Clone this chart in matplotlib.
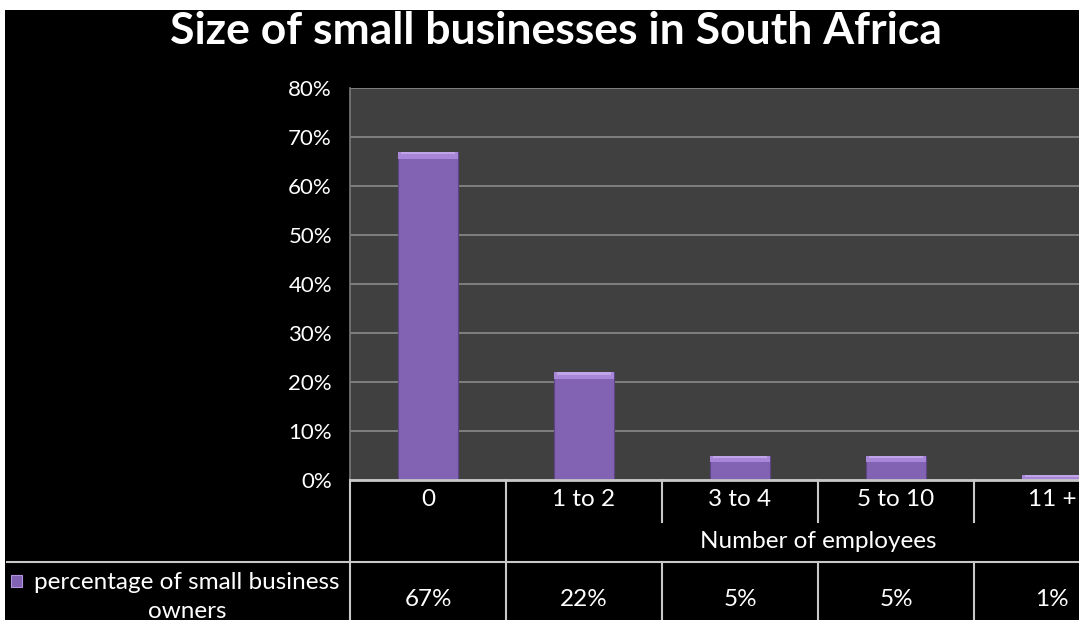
import matplotlib
matplotlib.use("Agg")
import matplotlib.pyplot as plt
from matplotlib.patches import Rectangle
from matplotlib.lines import Line2D
from matplotlib.transforms import blended_transform_factory

categories = ["0", "1 to 2", "3 to 4", "5 to 10", "11 +"]
values = [0.67, 0.22, 0.05, 0.05, 0.01]
value_labels = ["67%", "22%", "5%", "5%", "1%"]
yticks = [0.0, 0.1, 0.2, 0.3, 0.4, 0.5, 0.6, 0.7, 0.8]
ytick_labels = ["0%", "10%", "20%", "30%", "40%", "50%", "60%", "70%", "80%"]
title = "Size of small businesses in South Africa"
axis_title = "Number of employees"
series_name = "percentage of small business\nowners"

FONT = ["Lato", "DejaVu Sans"]
plt.rcParams['font.family'] = FONT
FS = 17.5

W, H = 1079, 620
fig = plt.figure(figsize=(W / 100, H / 100), dpi=100, facecolor="white")

def fx(px):
    return px / W

def fy(py):
    return 1 - py / H

# black background (image has a thin white margin at top/left)
fig.patches.append(Rectangle((fx(5), 0), 1, fy(10), transform=fig.transFigure,
                             facecolor="black", edgecolor="none", zorder=-10))

left, right, top, bottom = 350, 1130, 88, 480
ax = fig.add_axes([fx(left), fy(bottom), fx(right - left), fy(top) - fy(bottom)])
ax.set_zorder(1)
ax.set_facecolor("#404040")
n = len(categories)
ax.set_xlim(-0.5, n - 0.5)
ax.set_ylim(0, 0.8)
ax.set_yticks(yticks)
ax.set_yticklabels(ytick_labels, color="white", fontsize=16)
ax.set_xticks([])
ax.tick_params(axis="y", length=0, pad=13)
ax.grid(axis="y", color="#8a8a8a", linewidth=1.2)
ax.set_axisbelow(True)
for s in ["top", "right", "bottom"]:
    ax.spines[s].set_visible(False)
ax.spines["left"].set_color("#7a7a7a")
ax.spines["left"].set_linewidth(1.2)

x = list(range(n))
bw = 0.39
ax.bar(x, values, width=bw, color="#8262b2", edgecolor="#5e4488", linewidth=0.8, zorder=3)
bevel = 0.014
ax.bar(x, [min(bevel, v) for v in values], bottom=[v - min(bevel, v) for v in values],
       width=bw * 0.97, color="#a887d8", edgecolor="none", zorder=4)
ax.bar(x, [min(bevel, v) * 0.4 for v in values],
       bottom=[v - min(bevel, v) * 0.4 for v in values],
       width=bw * 0.9, color="#c0a4ea", edgecolor="none", zorder=5)

# title
fig.text(fx(556), fy(31), title, color="white", fontsize=32, fontweight="bold",
         ha="center", va="center")

# data table
tr = blended_transform_factory(ax.transData, fig.transFigure)
line_c = "#c8c8c8"
fig.add_artist(Line2D([fx(left), 1.1], [fy(480), fy(480)], color=line_c, linewidth=2,
                      transform=fig.transFigure, zorder=5))
fig.add_artist(Line2D([fx(7), 1.1], [fy(562), fy(562)], color=line_c, linewidth=1.5,
                      transform=fig.transFigure, zorder=5))
for i in range(n):
    xb = i - 0.5
    if i <= 1:
        fig.add_artist(Line2D([xb, xb], [fy(480), fy(620)], color=line_c, linewidth=1.5,
                              transform=tr, zorder=5))
    else:
        fig.add_artist(Line2D([xb, xb], [fy(480), fy(522)], color=line_c, linewidth=1.5,
                              transform=tr, zorder=5))
        fig.add_artist(Line2D([xb, xb], [fy(562), fy(620)], color=line_c, linewidth=1.5,
                              transform=tr, zorder=5))

for i, c in enumerate(categories):
    fig.text(i, fy(500), c, transform=tr, color="white", fontsize=FS, ha="center", va="center")
fig.text((0.5 + n - 0.5) / 2, fy(541), axis_title, transform=tr, color="white",
         fontsize=FS, ha="center", va="center")
for i, v in enumerate(value_labels):
    fig.text(i, fy(600), v, transform=tr, color="white", fontsize=FS, ha="center", va="center")

# legend key
fig.patches.append(Rectangle((fx(11), fy(587)), fx(11), fy(575) - fy(587), transform=fig.transFigure,
                             facecolor="#8262b2", edgecolor="#b294df", linewidth=0.8, zorder=3))
fig.text(fx(187), fy(572), series_name, color="white", fontsize=FS, ha="center",
         va="top", linespacing=1.45, transform=fig.transFigure)

fig.savefig("out.png", dpi=100, facecolor=fig.get_facecolor())
